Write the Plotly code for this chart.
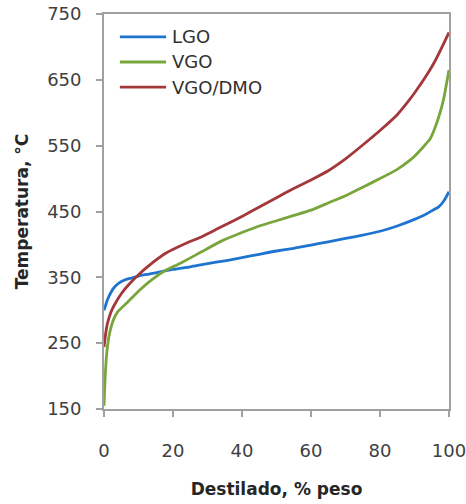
import plotly.graph_objects as go

# Distillation curves: temperature vs. wt% distilled
lgo_x = [0, 0.5, 1, 2, 3, 4.5, 6, 8, 10, 13, 16, 20, 25, 30, 35, 40, 45, 50, 55, 60,
         65, 70, 75, 80, 85, 90, 93, 95, 97, 98.5, 100]
lgo_t = [300, 308, 316, 327, 335, 342, 346, 349, 352, 355, 358, 362, 366, 371, 375, 380,
         385, 390, 394, 399, 404, 409, 414, 420, 428, 438, 445, 451, 457, 466, 480]

vgo_x = [0, 0.3, 0.8, 1.5, 2.7, 4, 6.6, 10, 14, 18, 22, 28, 34, 40, 45, 50, 55, 60, 65,
         70, 75, 80, 85, 88.7, 90, 92, 94.5, 96, 97.4, 98.5, 99.3, 100]
vgo_t = [155, 195, 235, 262, 285, 298, 311, 329, 347, 361, 371, 388, 405, 418, 428, 436,
         444, 452, 463, 474, 487, 500, 514, 528, 534, 545, 560, 578, 600, 622, 645, 665]

dmo_x = [0, 0.5, 1, 2, 3, 5, 7, 10, 14, 18, 23, 28, 33, 38, 43, 50, 55, 60, 65, 70,
         75, 80, 85, 88, 90, 92, 94, 96, 98, 100]
dmo_t = [244, 265, 280, 297, 308, 325, 338, 354, 372, 387, 400, 411, 424, 437, 451, 471,
         485, 498, 512, 530, 551, 573, 597, 616, 630, 645, 661, 679, 700, 722]

names = ["LGO", "VGO", "VGO/DMO"]
colors = ["#1f74cf", "#78a53c", "#a3373a"]
xs_all = [lgo_x, vgo_x, dmo_x]
ts_all = [lgo_t, vgo_t, dmo_t]

fig = go.Figure()
for name, xs, ts, color in zip(names, xs_all, ts_all, colors):
    fig.add_trace(go.Scatter(x=xs, y=ts, mode="lines", name=name, showlegend=False,
                             line=dict(color=color, width=2.8, shape="spline",
                                       smoothing=0.5)))

# Legend drawn as line samples + labels in the upper-left of the plot area
leg_y = [0.942, 0.8785, 0.815]
for name, color, yy in zip(names, colors, leg_y):
    fig.add_shape(type="line", xref="paper", yref="paper",
                  x0=0.046, x1=0.18, y0=yy, y1=yy,
                  line=dict(color=color, width=2.8))
    fig.add_annotation(text=name, xref="paper", yref="paper", x=0.192, y=yy,
                       xanchor="left", yanchor="middle", showarrow=False,
                       font=dict(family="DejaVu Sans", size=18, color="#303030"))

tick_font = dict(family="DejaVu Sans", size=18, color="#404040")
title_font = dict(family="DejaVu Sans", size=17, color="#262626")

fig.update_layout(
    width=466, height=504,
    margin=dict(l=104, r=17, t=14, b=95),
    paper_bgcolor="white", plot_bgcolor="white",
    showlegend=False,
    xaxis=dict(range=[0, 100], tickvals=[0, 20, 40, 60, 80, 100],
               showgrid=False, zeroline=False, showline=True, mirror=True,
               linecolor="#a0a0a0", linewidth=1.8, automargin=False,
               ticks="outside", ticklen=6, tickcolor="#a0a0a0", tickwidth=1.8,
               ticklabelstandoff=18, ticklabeloverflow="allow", tickfont=tick_font,
               title=dict(text="<b>Destilado, % peso</b>", standoff=24,
                          font=title_font)),
    yaxis=dict(range=[150, 750], tickvals=[150, 250, 350, 450, 550, 650, 750],
               showgrid=False, zeroline=False, showline=True, mirror=True,
               linecolor="#a0a0a0", linewidth=1.8, automargin=False,
               ticks="outside", ticklen=6, tickcolor="#a0a0a0", tickwidth=1.8,
               ticklabelstandoff=11, ticklabeloverflow="allow", tickfont=tick_font,
               title=dict(text="<b>Temperatura, °C</b>", standoff=14,
                          font=title_font)),
)

fig.write_html("out.html")
